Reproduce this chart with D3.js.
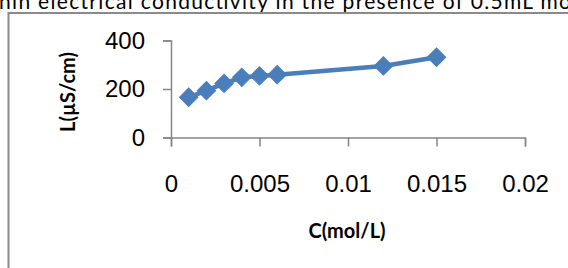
<!DOCTYPE html>
<html>
<head>
<meta charset="utf-8">
<script src="https://cdn.jsdelivr.net/npm/d3@7"></script>
<style>
  body { margin: 0; background: #fff; }
  svg { display: block; }
</style>
</head>
<body>
<svg id="chart" width="568" height="268"></svg>
<script>
// concentration (mol/L) vs conductivity (µS/cm)
const concentration = [0.001, 0.002, 0.003, 0.004, 0.005, 0.006, 0.012, 0.015];
const conductivity = [166, 193, 223, 248, 254, 259, 295, 331];
const xTicks = [0, 0.005, 0.01, 0.015, 0.02];
const yTicks = [0, 200, 400];

const svg = d3.select("#chart");

// caption above the chart, clipped by the page top like in the source
svg.append("text")
  .attr("x", -1)
  .attr("y", 8.5)
  .attr("font-family", "Lato, 'Open Sans', sans-serif")
  .attr("font-size", 21)
  .attr("fill", "#000")
  .attr("textLength", 572)
  .text("nin electrical conductivity in the presence of 0.5mL mo");

// chart frame
svg.append("rect")
  .attr("x", 8.5).attr("y", 13)
  .attr("width", 600).attr("height", 300)
  .attr("fill", "#fff")
  .attr("stroke", "#8a8a8a")
  .attr("stroke-width", 2);

const x = d3.scaleLinear().domain([0, 0.02]).range([171, 525]);
const y = d3.scaleLinear().domain([0, 400]).range([137.5, 40.5]);

const xAxis = svg.append("g")
  .attr("transform", `translate(0,${y(0)})`)
  .call(d3.axisBottom(x).tickValues(xTicks).tickSize(9).tickPadding(28)
    .tickFormat(d => d === 0 ? "0" : String(+d.toFixed(3))));

const yAxis = svg.append("g")
  .attr("transform", `translate(${x(0)},0)`)
  .call(d3.axisLeft(y).tickValues(yTicks).tickSize(8).tickPadding(18));

[xAxis, yAxis].forEach(g => {
  g.select(".domain").attr("stroke", "#868686").attr("stroke-width", 1.5);
  g.selectAll(".tick line").attr("stroke", "#868686").attr("stroke-width", 1.5);
  g.selectAll(".tick text")
    .attr("font-family", "'Liberation Sans', Arial, sans-serif")
    .attr("font-size", 24)
    .attr("fill", "#000");
});

// axis titles
svg.append("text")
  .attr("x", 347).attr("y", 238)
  .attr("text-anchor", "middle")
  .attr("font-family", "Lato, 'Open Sans', sans-serif")
  .attr("font-weight", "bold")
  .attr("font-size", 20)
  .text("C(mol/L)");

svg.append("text")
  .attr("transform", "translate(75,92) rotate(-90)")
  .attr("text-anchor", "middle")
  .attr("font-family", "Lato, 'Open Sans', sans-serif")
  .attr("font-weight", "bold")
  .attr("font-size", 20)
  .text("L(µS/cm)");

const points = concentration.map((c, i) => [c, conductivity[i]]);

const line = d3.line()
  .x(d => x(d[0]))
  .y(d => y(d[1]));

svg.append("path")
  .datum(points)
  .attr("d", line)
  .attr("fill", "none")
  .attr("stroke", "#4a7ebb")
  .attr("stroke-width", 4.5);

svg.append("g")
  .selectAll("path")
  .data(points)
  .join("path")
  .attr("transform", d => `translate(${x(d[0])},${y(d[1])}) rotate(45)`)
  .attr("d", d3.symbol().type(d3.symbolSquare).size(169))
  .attr("fill", "#4a7ebb")
  .attr("stroke", "#4a7ebb")
  .attr("stroke-width", 1);
</script>
</body>
</html>
